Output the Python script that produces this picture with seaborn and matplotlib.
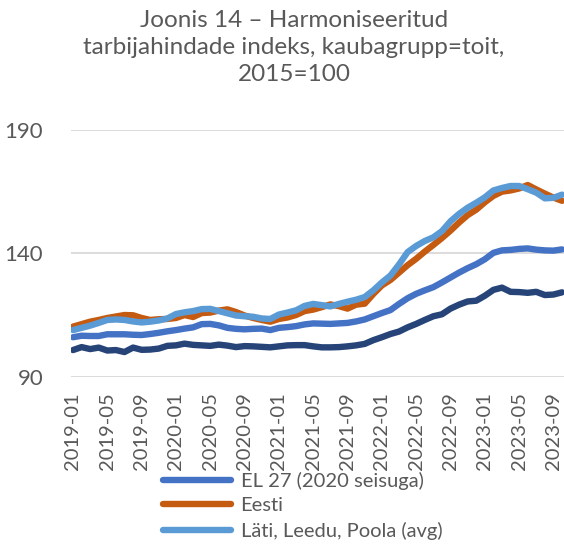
import matplotlib
matplotlib.use("Agg")
import matplotlib.pyplot as plt
import seaborn as sns
import pandas as pd
from matplotlib.lines import Line2D

months = [f"{y}-{m:02d}" for y in range(2019, 2024) for m in range(1, 13)][:58]

el27 = [106.0, 106.6, 106.5, 106.5, 107.2, 107.2, 107.2, 107.0, 106.9, 107.3,
        107.8, 108.4, 108.9, 109.5, 110.0, 111.3, 111.4, 110.8, 109.8, 109.4,
        109.2, 109.4, 109.5, 108.9, 109.8, 110.1, 110.5, 111.2, 111.6, 111.5,
        111.4, 111.6, 111.8, 112.4, 113.2, 114.5, 115.8, 117.0, 119.5, 121.8,
        123.6, 125.0, 126.3, 128.2, 130.2, 132.2, 134.0, 135.6, 137.6, 140.2,
        141.2, 141.4, 141.8, 142.0, 141.5, 141.2, 141.1, 141.6]

eesti = [110.3, 111.3, 112.3, 113.0, 113.8, 114.4, 115.0, 114.9, 113.8, 113.0,
         113.3, 113.4, 113.8, 115.0, 114.2, 115.8, 116.0, 116.8, 117.3, 116.2,
         114.8, 113.8, 113.0, 112.3, 113.4, 114.0, 115.0, 116.6, 117.2, 118.2,
         119.3, 118.6, 117.6, 119.2, 119.6, 123.5, 127.0, 129.2, 132.2, 135.2,
         137.8, 140.7, 143.4, 146.2, 149.2, 152.5, 155.5, 157.7, 160.7, 163.3,
         165.0, 165.5, 166.3, 167.7, 165.9, 164.2, 162.6, 161.3]

lati = [108.9, 109.8, 110.7, 111.8, 113.0, 113.2, 113.0, 112.4, 112.0, 112.3,
        112.8, 113.6, 115.4, 116.1, 116.6, 117.4, 117.5, 116.6, 115.7, 114.8,
        114.5, 114.3, 113.6, 113.4, 115.2, 116.0, 116.9, 118.7, 119.5, 119.0,
        118.5, 119.5, 120.4, 121.2, 122.3, 125.0, 128.2, 131.0, 135.5, 140.5,
        143.0, 145.0, 146.5, 149.0, 153.0, 156.0, 158.5, 160.5, 162.7, 165.5,
        166.5, 167.3, 167.3, 166.0, 164.6, 162.3, 162.5, 163.8]

muu = [100.8, 102.0, 101.2, 101.8, 100.6, 100.8, 100.0, 101.8, 100.9, 101.0,
       101.4, 102.5, 102.7, 103.4, 102.9, 102.7, 102.5, 103.0, 102.6, 102.0,
       102.4, 102.3, 102.1, 101.9, 102.3, 102.7, 102.8, 102.8, 102.3, 101.9,
       101.9, 102.0, 102.3, 102.7, 103.3, 104.8, 106.0, 107.3, 108.3, 110.0,
       111.4, 113.0, 114.5, 115.3, 117.6, 119.2, 120.5, 120.8, 122.8, 125.2,
       126.1, 124.4, 124.3, 124.0, 124.4, 123.1, 123.3, 124.2]

series_names = ["EL 27 (2020 seisuga)", "Eesti", "Läti, Leedu, Poola (avg)", "Muu"]
series_vals = [el27, eesti, lati, muu]
colors = {"EL 27 (2020 seisuga)": "#4472C4", "Eesti": "#C55A11",
          "Läti, Leedu, Poola (avg)": "#5B9BD5", "Muu": "#264478"}

rows = []
for name, vals in zip(series_names, series_vals):
    for i, v in enumerate(vals):
        rows.append({"idx": i, "month": months[i], "value": v, "series": name})
df = pd.DataFrame(rows)

sns.set_theme(style="white")
plt.rcParams["font.family"] = ["Lato", "DejaVu Sans"]
txt = "#595959"

fig = plt.figure(figsize=(5.64, 5.49), dpi=100)
ax = fig.add_axes([71 / 564, 1 - 376.7 / 549, (564 - 71) / 564, (376.7 - 130) / 549])

sns.lineplot(data=df, x="idx", y="value", hue="series", hue_order=series_names,
             palette=colors, linewidth=4.6, ax=ax, legend=False, sort=False)
for ln in ax.get_lines():
    ln.set_solid_capstyle("round")
    ln.set_solid_joinstyle("round")

ax.set_ylim(90, 190)
ax.set_yticks([90, 140, 190])
ax.set_xlim(-0.233, 57.23)
ticks = list(range(0, 58, 4))
ax.set_xticks(ticks)
ax.set_xticklabels([months[t] for t in ticks], rotation=90, fontsize=14.5, color=txt)
ax.tick_params(axis="y", labelsize=16, colors=txt, length=0, pad=20)
ax.tick_params(axis="x", length=0, pad=11)
ax.yaxis.grid(True, color="#D9D9D9", linewidth=1.3)
ax.set_axisbelow(True)
for s in ["top", "right", "left", "bottom"]:
    ax.spines[s].set_visible(False)
ax.set_xlabel("")
ax.set_ylabel("")

fig.text(294 / 564, 1 - 10 / 549,
         "Joonis 14 – Harmoniseeritud\ntarbijahindade indeks, kaubagrupp=toit,\n2015=100",
         ha="center", va="top", fontsize=17.5, color=txt, linespacing=1.36)

handles = [Line2D([0], [0], color=colors[n], lw=4.6, solid_capstyle="round") for n in series_names[:3]]
fig.legend(handles, series_names[:3], loc="upper left",
           bbox_to_anchor=(163 / 564, 1 - 472 / 549), frameon=False, fontsize=14.5,
           labelcolor=txt, handlelength=3.4, handletextpad=0.45, labelspacing=0.36,
           borderaxespad=0, borderpad=0)

fig.savefig("out.png", dpi=100)
